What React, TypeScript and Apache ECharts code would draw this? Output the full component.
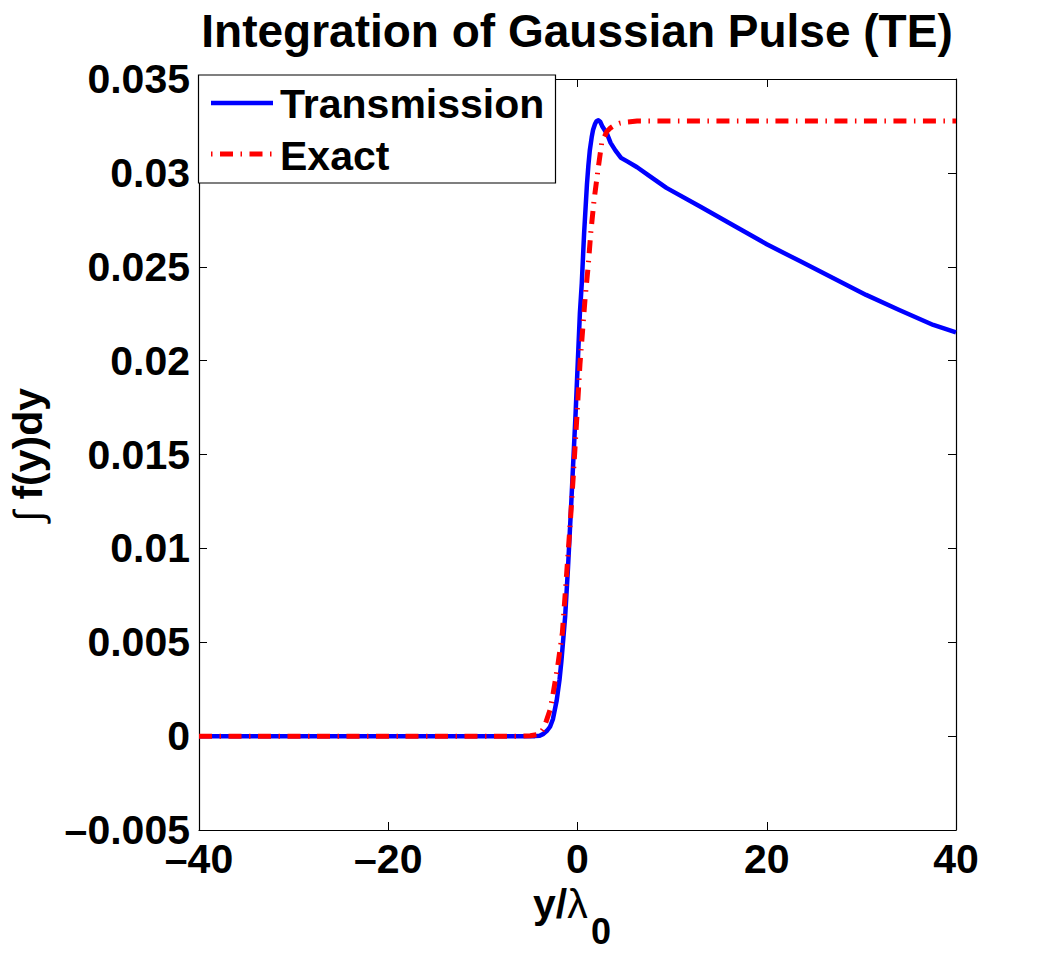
import React, { useEffect, useRef } from 'react';
import * as echarts from 'echarts';

// Transmission: numerically integrated pulse across the aperture
const transmissionX = [
  -40, -20, -10, -5, -4.5, -4, -3.6, -3.2, -2.9, -2.6, -2.2, -1.9, -1.7, -1.5,
  -1.3, -1.0, -0.65, -0.2, 0.25, 0.45, 0.7, 1.0, 1.15, 1.3, 1.5, 1.65, 1.85,
  2.0, 2.2, 2.4, 2.6, 2.85, 3.1, 3.5, 4.0, 4.6, 5.3, 6.3, 7.7, 9.4, 13, 16.5,
  20, 23.5, 27, 30.5, 34, 37.6, 40,
];
const transmissionY = [
  0, 0, 0, 0, 0, 0.00002, 0.00012, 0.0003, 0.0005, 0.0009, 0.0019, 0.003,
  0.004, 0.0052, 0.0064, 0.009, 0.0125, 0.0172, 0.0225, 0.0241, 0.0268,
  0.0294, 0.0304, 0.0312, 0.0319, 0.0323, 0.0326, 0.03275, 0.0328, 0.03272,
  0.0325, 0.0323, 0.0321, 0.0316, 0.0312, 0.0308, 0.0306, 0.0303, 0.0298,
  0.0292, 0.0282, 0.0272, 0.0262, 0.0253, 0.0244, 0.0235, 0.0227, 0.0219,
  0.0215,
];

// Exact: analytic integral of the Gaussian pulse
const exactX = [
  -40, -20, -10, -6, -5, -4, -3.6, -3.3, -2.9, -2.6, -2.1, -1.6, -1.14, -0.72,
  -0.44, -0.09, 0.26, 0.8, 1.14, 1.4, 1.74, 2.2, 2.56, 3.1, 3.5, 3.96, 4.5,
  5.0, 6.3, 10, 20, 30, 40,
];
const exactY = [
  0, 0, 0, 0, 0.00002, 0.0001, 0.0004, 0.0008, 0.0014, 0.0022, 0.0037,
  0.0055, 0.0087, 0.0117, 0.0139, 0.0168, 0.0198, 0.0233, 0.0251, 0.0268,
  0.0285, 0.0303, 0.0316, 0.0322, 0.0324, 0.03255, 0.03265, 0.0327, 0.03276,
  0.03276, 0.03276, 0.03276, 0.03276,
];

const seriesNames = ['Transmission', 'Exact'];
const titleText = 'Integration of Gaussian Pulse (TE)';

const FONT = '"Liberation Sans", Arial, Helvetica, sans-serif';

function tickText(v: number): string {
  const r = Number(v.toFixed(4));
  if (r === 0) return '0';
  const s = String(Math.abs(r));
  return r < 0 ? '\u2013' + s : s;
}

function pairs(xs: number[], ys: number[]): number[][] {
  return xs.map((x, i) => [x, ys[i]]);
}

export default function App() {
  const ref = useRef<HTMLDivElement>(null);

  useEffect(() => {
    document.body.style.margin = '0';
    const chart = echarts.init(ref.current!, null, { renderer: 'svg' });

    const axisLine = { show: true, onZero: false, lineStyle: { color: '#000', width: 1.2 } };
    const axisTick = { show: true, inside: true, length: 8, lineStyle: { color: '#000', width: 1 } };
    const labelStyle = {
      fontSize: 41,
      fontWeight: 'bold' as const,
      color: '#000',
      fontFamily: FONT,
      formatter: tickText,
    };

    const option: echarts.EChartsOption = {
      animation: false,
      backgroundColor: '#fff',
      grid: { left: 199, top: 79, width: 757, height: 751, containLabel: false },
      xAxis: [
        {
          type: 'value', min: -40, max: 40, interval: 20, position: 'bottom',
          axisLine, axisTick, splitLine: { show: false },
          axisLabel: { ...labelStyle, margin: 8 },
        },
        {
          type: 'value', min: -40, max: 40, interval: 20, position: 'top',
          axisLine, axisTick, splitLine: { show: false },
          axisLabel: { show: false },
        },
      ],
      yAxis: [
        {
          type: 'value', min: -0.005, max: 0.035, interval: 0.005, position: 'left',
          axisLine, axisTick, splitLine: { show: false },
          axisLabel: { ...labelStyle, margin: 9 },
        },
        {
          type: 'value', min: -0.005, max: 0.035, interval: 0.005, position: 'right',
          axisLine, axisTick, splitLine: { show: false },
          axisLabel: { show: false },
        },
      ],
      series: [
        {
          name: seriesNames[0],
          type: 'line',
          xAxisIndex: 0,
          yAxisIndex: 0,
          data: pairs(transmissionX, transmissionY),
          showSymbol: false,
          smooth: false,
          lineStyle: { color: '#0000ff', width: 4.5, join: 'round' },
          z: 2,
        },
        {
          name: seriesNames[1],
          type: 'line',
          xAxisIndex: 0,
          yAxisIndex: 0,
          data: pairs(exactX, exactY),
          showSymbol: false,
          smooth: false,
          lineStyle: { color: '#ff0000', width: 5, type: [13, 7.5, 1.5, 7.5], cap: 'butt' },
          z: 3,
        },
      ],
      graphic: [
        {
          type: 'text', x: 577, y: 31, z: 100,
          style: {
            text: titleText, fill: '#000', font: `bold 46px ${FONT}`,
            align: 'center', verticalAlign: 'middle',
          },
        },
        {
          type: 'text', x: 28, y: 455, rotation: Math.PI / 2, z: 100,
          style: {
            text: '{i|\u222B}{b| f(y)dy}',
            fill: '#000',
            align: 'center', verticalAlign: 'middle',
            rich: {
              i: { fontSize: 40, fontWeight: 'normal', fontFamily: FONT, fill: '#000' },
              b: { fontSize: 41, fontWeight: 'bold', fontFamily: FONT, fill: '#000' },
            },
          },
        },
        {
          type: 'text', x: 533, y: 904, z: 100,
          style: {
            text: '{a|y/}{l|\u03BB}',
            fill: '#000',
            align: 'left', verticalAlign: 'middle',
            rich: {
              a: { fontSize: 41, fontWeight: 'bold', fontFamily: FONT, fill: '#000' },
              l: { fontSize: 41, fontWeight: 'normal', fontFamily: FONT, fill: '#000' },
            },
          },
        },
        {
          type: 'text', x: 591, y: 931, z: 100,
          style: {
            text: '0', fill: '#000', font: `bold 36px ${FONT}`,
            align: 'left', verticalAlign: 'middle',
          },
        },
        // legend box
        {
          type: 'rect', z: 100,
          shape: { x: 198.5, y: 75, width: 357, height: 108 },
          style: { fill: '#fff', stroke: '#000', lineWidth: 1.2 },
        },
        {
          type: 'line', z: 101,
          shape: { x1: 211, y1: 103, x2: 273, y2: 103 },
          style: { stroke: '#0000ff', lineWidth: 4.5 },
        },
        {
          type: 'line', z: 101,
          shape: { x1: 211, y1: 154, x2: 273, y2: 154 },
          style: { stroke: '#ff0000', lineWidth: 5, lineDash: [1.5, 7.5, 13, 7.5], lineCap: 'butt' },
        },
        {
          type: 'text', x: 280, y: 104, z: 101,
          style: {
            text: seriesNames[0], fill: '#000', font: `bold 41px ${FONT}`,
            align: 'left', verticalAlign: 'middle',
          },
        },
        {
          type: 'text', x: 280, y: 156, z: 101,
          style: {
            text: seriesNames[1], fill: '#000', font: `bold 41px ${FONT}`,
            align: 'left', verticalAlign: 'middle',
          },
        },
      ],
    };

    chart.setOption(option);
    return () => chart.dispose();
  }, []);

  return <div ref={ref} style={{ width: 1057, height: 953 }} />;
}
